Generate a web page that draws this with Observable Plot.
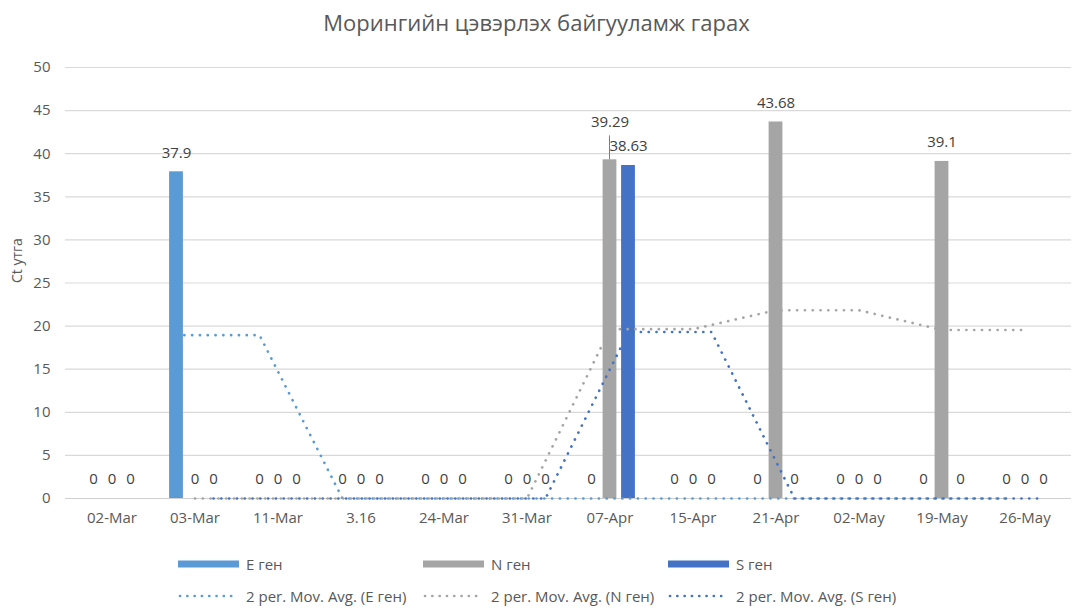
<!DOCTYPE html>
<html>
<head>
<meta charset="utf-8">
<script src="https://cdn.jsdelivr.net/npm/d3@7"></script>
<script src="https://cdn.jsdelivr.net/npm/@observablehq/plot@0.6"></script>
<style>
  html, body { margin: 0; padding: 0; background: #fff; }
  #chart { position: relative; width: 1073px; height: 608px; overflow: hidden; font-family: "Open Sans", sans-serif; color: #595959; }
  .title { height: 44px; line-height: 44px; text-align: center; font-size: 22px; color: #595959; }
  .item { position: absolute; display: flex; align-items: center; height: 18px; line-height: 18px; font-size: 15px; color: #595959; white-space: nowrap; }
  .item svg { display: block; margin-right: 7px; }
</style>
</head>
<body>
<div id="chart">
  <div class="title">Морингийн цэвэрлэх байгууламж гарах</div>
  <div id="plot"></div>
  <div id="legend"></div>
</div>
<script>
// Sampling dates (category axis)
const dates = ["02-Mar", "03-Mar", "11-Mar", "3.16", "24-Mar", "31-Mar", "07-Apr", "15-Apr", "21-Apr", "02-May", "19-May", "26-May"];

// Ct values per gene
const eGene = [0, 37.9, 0, 0, 0, 0, 0, 0, 0, 0, 0, 0];
const nGene = [0, 0, 0, 0, 0, 0, 39.29, 0, 43.68, 0, 39.1, 0];
const sGene = [0, 0, 0, 0, 0, 0, 38.63, 0, 0, 0, 0, 0];

// 2-period moving averages (first period has no value)
const eAvg = [null, 18.95, 18.95, 0, 0, 0, 0, 0, 0, 0, 0, 0];
const nAvg = [null, 0, 0, 0, 0, 0, 19.645, 19.645, 21.84, 21.84, 19.55, 19.55];
const sAvg = [null, 0, 0, 0, 0, 0, 19.315, 19.315, 0, 0, 0, 0];

const seriesNames = ["E ген", "N ген", "S ген"];
const yTicks = [0, 5, 10, 15, 20, 25, 30, 35, 40, 45, 50];

// Styling
const colors = ["#5b9bd5", "#a5a5a5", "#4472c4"];
const offsets = [-18.5, 0, 18.5];   // horizontal shift of each gene inside a date group
const barInset = 34.6;
const dotDash = "0.1 7.7";

const values = [eGene, nGene, sGene];
const avgs = [eAvg, nAvg, sAvg];

const series = seriesNames.map((name, s) => ({
  name,
  color: colors[s],
  dx: offsets[s],
  rows: dates.map((date, i) => ({date, value: values[s][i], avg: avgs[s][i]}))
}));

// The 39.29 label is lifted above the neighbouring 38.63 label and tied to its bar with a leader
const liftedKey = (s, d) => s === 1 && d.date === "07-Apr";

const marks = [
  Plot.gridY(yTicks, {stroke: "#d9d9d9", strokeOpacity: 1, strokeWidth: 1.2}),
  Plot.axisY(yTicks, {tickSize: 0, tickPadding: 15, fontSize: 15, fill: "#595959", label: null}),
  Plot.axisX({tickSize: 0, tickPadding: 14, fontSize: 15, fill: "#595959", label: null}),
  Plot.ruleY([0], {stroke: "#cfcfcf", strokeWidth: 1.2}),
  Plot.text(["Ct утга"], {frameAnchor: "left", dx: -48, rotate: -90, fontSize: 14, fill: "#595959"})
];

series.forEach(s => {
  marks.push(Plot.barY(s.rows, {x: "date", y: "value", fill: s.color, insetLeft: barInset, insetRight: barInset, dx: s.dx}));
});

series.forEach(s => {
  marks.push(Plot.line(s.rows.filter(d => d.avg != null), {
    x: "date", y: "avg", dx: s.dx, stroke: s.color, strokeWidth: 2.7,
    strokeDasharray: dotDash, strokeLinecap: "round", curve: "linear"
  }));
});

series.forEach((s, k) => {
  marks.push(Plot.text(s.rows.filter(d => !liftedKey(k, d)), {
    x: "date", y: "value", dx: s.dx, dy: -19, text: d => String(d.value), fontSize: 15, fill: "#404040"
  }));
  const lifted = s.rows.filter(d => liftedKey(k, d));
  if (lifted.length) {
    marks.push(Plot.text(lifted, {
      x: "date", y: "value", dx: s.dx, dy: -38, text: d => String(d.value), fontSize: 15, fill: "#404040"
    }));
    // leader line from the lifted label down to the bar top
    marks.push((index, scales) => {
      const g = document.createElementNS("http://www.w3.org/2000/svg", "g");
      for (const d of lifted) {
        const bw = scales.x.bandwidth ? scales.x.bandwidth() : 0;
        const cx = scales.x(d.date) + bw / 2 + s.dx;
        const top = scales.y(d.value);
        const ln = document.createElementNS("http://www.w3.org/2000/svg", "line");
        ln.setAttribute("x1", cx); ln.setAttribute("x2", cx);
        ln.setAttribute("y1", top - 24); ln.setAttribute("y2", top);
        ln.setAttribute("stroke", "#7f7f7f"); ln.setAttribute("stroke-width", 1);
        g.appendChild(ln);
      }
      return g;
    });
  }
});

const chart = Plot.plot({
  width: 1073,
  height: 500,
  marginTop: 23,
  marginBottom: 46,
  marginLeft: 65,
  marginRight: 2,
  style: {fontFamily: "Open Sans, sans-serif", fontSize: "15px", color: "#595959", background: "#fff", overflow: "visible"},
  x: {domain: dates, padding: 0},
  y: {domain: [0, 50]},
  marks
});
document.getElementById("plot").appendChild(chart);

// Legend: two rows, three columns
const legend = document.getElementById("legend");
const columns = [178, 423, 668];
const rowTops = [555, 587];
function swatch(color, dotted) {
  const svg = d3.create("svg").attr("width", 61).attr("height", 10);
  if (dotted) {
    svg.append("line").attr("x1", 2).attr("x2", 60).attr("y1", 5).attr("y2", 5)
      .attr("stroke", color).attr("stroke-width", 2.7).attr("stroke-linecap", "round")
      .attr("stroke-dasharray", "0.1 7.2");
  } else {
    svg.append("rect").attr("x", 0).attr("y", 1.5).attr("width", 61).attr("height", 7).attr("fill", color);
  }
  return svg.node();
}
seriesNames.forEach((name, i) => {
  [[name, false], ["2 per. Mov. Avg. (" + name + ")", true]].forEach(([label, dotted], r) => {
    const item = document.createElement("div");
    item.className = "item";
    item.style.left = columns[i] + "px";
    item.style.top = rowTops[r] + "px";
    item.appendChild(swatch(colors[i], dotted));
    const span = document.createElement("span");
    span.textContent = label;
    item.appendChild(span);
    legend.appendChild(item);
  });
});
</script>
</body>
</html>
